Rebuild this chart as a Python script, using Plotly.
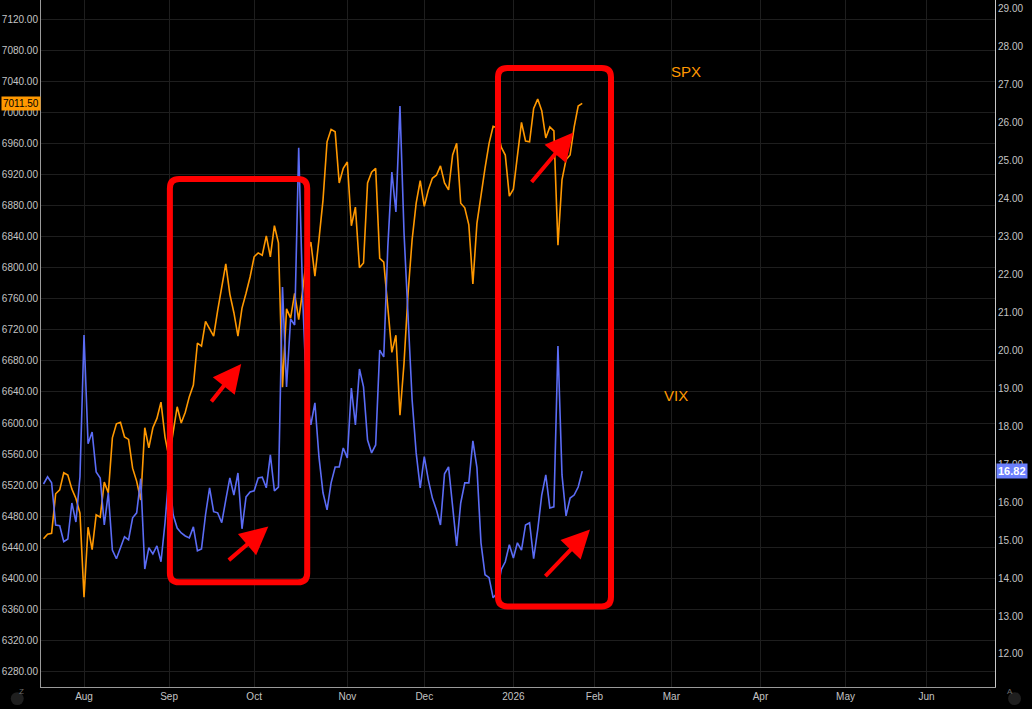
import pandas as pd
import plotly.graph_objects as go

# Fechamentos diários (SPX e VIX), a partir de 18/07/2025
spx = [6451, 6457, 6458, 6509, 6514, 6536, 6533, 6515, 6503, 6484,
       6376, 6466, 6437, 6482, 6479, 6524, 6510, 6581, 6599, 6601,
       6582, 6579, 6542, 6525, 6501, 6594, 6568, 6594, 6606, 6627,
       6582, 6555, 6588, 6621, 6600, 6614, 6634, 6649, 6703, 6699,
       6731, 6722, 6712, 6745, 6775, 6805, 6766, 6742, 6712, 6748,
       6767, 6788, 6814, 6819, 6816, 6841, 6814, 6854, 6832, 6646,
       6747, 6735, 6767, 6733, 6771, 6816, 6833, 6789, 6836, 6887,
       6962, 6978, 6975, 6909, 6928, 6936, 6854, 6878, 6800, 6806,
       6909, 6923, 6928, 6812, 6807, 6749, 6691, 6713, 6610, 6677,
       6767, 6836, 6883, 6912, 6879, 6900, 6915, 6919, 6931, 6909,
       6900, 6945, 6960, 6883, 6877, 6855, 6779, 6857, 6896, 6928,
       6960, 6982, 6980, 6955, 6945, 6892, 6901, 6948, 6987, 6963,
       6962, 7005, 7017, 7002, 6967, 6981, 6976, 6829, 6913, 6939,
       6945, 6981, 7008, 7011.5]

vix = [16.48, 16.67, 16.51, 15.40, 15.38, 14.96, 15.03, 15.98, 15.48, 16.67,
       20.41, 17.54, 17.85, 16.80, 16.64, 15.40, 16.25, 14.74, 14.51, 14.82,
       15.09, 15.01, 15.59, 15.72, 16.62, 14.24, 14.80, 14.64, 14.85, 14.43,
       15.46, 16.77, 15.67, 15.32, 15.19, 15.11, 15.06, 15.35, 14.72, 14.77,
       15.67, 16.38, 15.75, 15.72, 15.46, 16.06, 16.64, 16.19, 16.77, 15.30,
       16.14, 16.27, 16.30, 16.64, 16.66, 16.38, 17.25, 16.30, 16.40, 21.67,
       19.04, 20.83, 20.67, 25.34, 21.33, 18.70, 18.04, 18.62, 17.20, 16.25,
       15.80, 16.51, 16.93, 16.93, 17.43, 17.17, 19.01, 18.04, 19.51, 19.04,
       17.64, 17.30, 17.51, 20.01, 19.83, 22.73, 24.70, 23.65, 26.44, 23.10,
       20.88, 18.70, 17.30, 16.38, 17.20, 16.59, 16.11, 15.80, 15.40, 16.75,
       16.93, 15.80, 14.85, 15.98, 16.51, 16.51, 17.62, 16.91, 14.93, 14.09,
       14.01, 13.48, 13.61, 14.22, 14.43, 14.88, 14.53, 14.93, 14.74, 15.40,
       15.46, 14.51, 15.27, 16.19, 16.72, 15.85, 15.88, 20.12, 16.72, 15.64,
       16.11, 16.19, 16.40, 16.82]

holidays = ["2025-09-01", "2025-11-27", "2025-12-25", "2026-01-01", "2026-01-19",
            "2026-02-16", "2026-04-03", "2026-05-25", "2026-06-19"]

# eixo por pregão (como no TradingView)
days = pd.bdate_range("2025-07-18", "2026-06-30")
days = days[~days.isin(pd.to_datetime(holidays))]
tick_idx = [i for i in range(1, len(days)) if days[i].month != days[i - 1].month]
tick_txt = ["2026" if days[i].month == 1 else days[i].strftime("%b") for i in tick_idx]
x = list(range(len(spx)))

BG = "#000000"
GRID = "#1e1e1e"
AXIS = "#9a9a9a"
TXT = "#c4c4c4"
RED = "#ff0000"
ORANGE = "#ff9800"
BLUE = "#5b6cf5"
FONT = "Liberation Sans"

fig = go.Figure()
fig.add_trace(go.Scatter(x=x, y=vix, yaxis="y2", mode="lines",
                         line=dict(color=BLUE, width=1.6), name="VIX"))
fig.add_trace(go.Scatter(x=x, y=spx, mode="lines",
                         line=dict(color=ORANGE, width=1.6), name="SPX"))


def rounded_box(x0, x1, y0, y1, rx, ry):
    return (f"M{x0 + rx},{y1} L{x1 - rx},{y1} Q{x1},{y1} {x1},{y1 - ry} "
            f"L{x1},{y0 + ry} Q{x1},{y0} {x1 - rx},{y0} L{x0 + rx},{y0} "
            f"Q{x0},{y0} {x0},{y0 + ry} L{x0},{y1 - ry} Q{x0},{y1} {x0 + rx},{y1} Z")


# caixas vermelhas (x em pregões, y em pontos do SPX)
for bx0, bx1, by0, by1 in [(31.2, 65.1, 6395, 6914), (112.2, 140.1, 6364, 7057)]:
    fig.add_shape(type="path", xref="x", yref="y", layer="above",
                  path=rounded_box(bx0, bx1, by0, by1, 2.3, 12),
                  line=dict(color=RED, width=6))

# setas
for ax_x, ax_y, dx, dy in [(48.8, 6676, -31, 39), (55.5, 6467, -41, 35),
                           (130.8, 6974, -43, 51), (134.9, 6463, -46, 48)]:
    fig.add_annotation(x=ax_x, y=ax_y, xref="x", yref="y", ax=dx, ay=dy,
                       showarrow=True, arrowhead=2, arrowsize=1.4, arrowwidth=4,
                       arrowcolor=RED, text="")

fig.add_annotation(x=158.5, y=7052, xref="x", yref="y", text="SPX", showarrow=False,
                   font=dict(family=FONT, size=15, color=ORANGE))
fig.add_annotation(x=156.2, y=6636, xref="x", yref="y", text="VIX", showarrow=False,
                   font=dict(family=FONT, size=15, color=ORANGE))

# etiquetas de último preço
fig.add_annotation(x=0, y=spx[-1], xref="paper", yref="y", xanchor="right",
                   text=f"{spx[-1]:.2f}", showarrow=False, bgcolor=ORANGE,
                   borderpad=1, font=dict(family=FONT, size=10, color="#000000"))
fig.add_annotation(x=1, y=vix[-1], xref="paper", yref="y2", xanchor="left", xshift=1,
                   text=f"<b>{vix[-1]:.2f}</b>", showarrow=False, bgcolor="#6b7ffc",
                   borderpad=1, font=dict(family=FONT, size=11, color="#ffffff"))

# botões Z / A nos cantos
for cx, letter in [(-0.0249, "Z"), (1.0205, "A")]:
    fig.add_shape(type="circle", xref="paper", yref="paper",
                  x0=cx - 0.0068, x1=cx + 0.0068, y0=-0.0076, y1=-0.0262,
                  fillcolor="#1f1f1f", line=dict(width=0))
    fig.add_annotation(x=cx, y=-0.0165, xref="paper", yref="paper", text=letter,
                       showarrow=False, font=dict(family=FONT, size=8, color="#6e6e6e"))

fig.update_layout(
    width=1032, height=709,
    margin=dict(l=41, r=37, t=0, b=22, autoexpand=False),
    paper_bgcolor=BG, plot_bgcolor=BG,
    showlegend=False,
    font=dict(family=FONT, size=10, color=TXT),
    xaxis=dict(range=[-0.62, 234.9], tickvals=tick_idx, ticktext=tick_txt,
               showgrid=True, gridcolor=GRID, gridwidth=1, zeroline=False,
               showline=True, linecolor=AXIS, linewidth=1, ticks="", automargin=False),
    yaxis=dict(range=[6260.3, 7144.5], dtick=40, tick0=0, tickformat=".2f",
               showgrid=True, gridcolor=GRID, gridwidth=1, zeroline=False,
               showline=True, linecolor=AXIS, linewidth=1, ticks="", automargin=False),
    yaxis2=dict(range=[11.13, 29.237], dtick=1, tick0=0, tickformat=".2f",
                overlaying="y", side="right", showgrid=False, zeroline=False,
                showline=True, linecolor="#c8c8c8", linewidth=1, ticks="",
                automargin=False),
)

# tira a margem padrão do <body> para o gráfico começar no canto
fig.write_html("out.html", config={"displayModeBar": False},
               post_script="document.body.style.margin='0';"
                           "document.body.style.background='#000';")
